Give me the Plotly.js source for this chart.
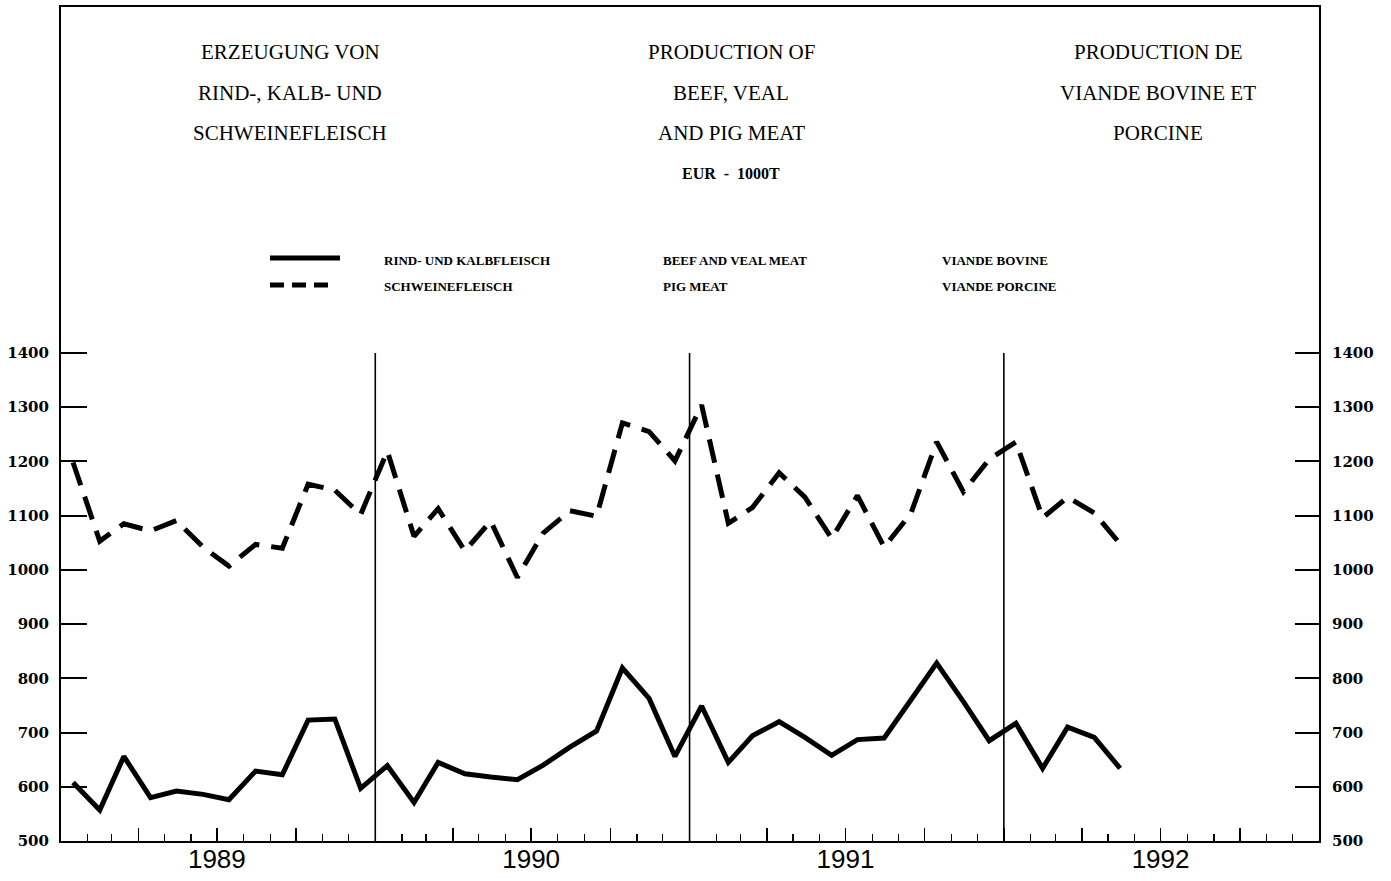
<!DOCTYPE html>
<html><head><meta charset="utf-8">
<script src="https://cdn.plot.ly/plotly-3.0.1.min.js"></script>
<style>html,body{margin:0;padding:0;background:#fff}#chart{width:1391px;height:881px}</style>
</head><body><div id="chart"></div>
<script>
// ---- data (thousand tonnes, EUR) ----
const months = [
 '1989-01','1989-02','1989-03','1989-04','1989-05','1989-06','1989-07','1989-08','1989-09','1989-10','1989-11','1989-12',
 '1990-01','1990-02','1990-03','1990-04','1990-05','1990-06','1990-07','1990-08','1990-09','1990-10','1990-11','1990-12',
 '1991-01','1991-02','1991-03','1991-04','1991-05','1991-06','1991-07','1991-08','1991-09','1991-10','1991-11','1991-12',
 '1992-01','1992-02','1992-03','1992-04','1992-05'];
const beefVeal = [
 608,557,656,580,592,586,576,629,622,723,725,597,
 639,571,645,624,618,613,640,673,703,819,763,656,
 749,645,694,720,691,658,687,690,760,828,757,685,
 717,634,710,691,634];
const pigMeat = [
 1198,1053,1085,1072,1091,1042,1007,1047,1040,1158,1147,1102,
 1219,1062,1113,1035,1090,986,1068,1109,1099,1271,1255,1201,
 1304,1086,1115,1179,1134,1058,1137,1042,1104,1236,1144,1204,
 1236,1096,1134,1105,1048];
const years = ['1989','1990','1991','1992'];
const yTicks = [500,600,700,800,900,1000,1100,1200,1300,1400];
const titleDE = ['ERZEUGUNG VON','RIND-, KALB- UND','SCHWEINEFLEISCH'];
const titleEN = ['PRODUCTION OF','BEEF, VEAL','AND PIG MEAT'];
const titleFR = ['PRODUCTION DE','VIANDE BOVINE ET','PORCINE'];
const unitLabel = 'EUR  -  1000T';
const legendBeef = ['RIND- UND KALBFLEISCH','BEEF AND VEAL MEAT','VIANDE BOVINE'];
const legendPig = ['SCHWEINEFLEISCH','PIG MEAT','VIANDE PORCINE'];

// ---- derived ----
const xDates = months.map(m => m + '-15');
const xStart = years[0] + '-01-01';
const xEnd = (parseInt(years[years.length-1]) + 1) + '-01-01';
const quarterTicks = [];
years.forEach(y => ['01','04','07','10'].forEach(m => quarterTicks.push(y + '-' + m + '-01')));
quarterTicks.push(xEnd);
const midYear = years.map(y => y + '-07-01');
const boundaries = years.slice(1).map(y => y + '-01-01');
const vx = [], vy = [];
boundaries.forEach(b => { vx.push(b, b, null); vy.push(yTicks[yTicks.length-1], yTicks[0], null); });

// layout geometry (pixels)
const L = 61, R = 1319, T = 7, B = 841;
const px = x => (x - L) / (R - L);
const py = y => (B - y) / (B - T);
const yTop = yTicks[0] + (yTicks[yTicks.length-1] - yTicks[0]) * (B - T) / (B - 353);

const annotations = [];
function addText(text, x, y, size, opts) {
  annotations.push(Object.assign({
    text: text, xref: 'paper', yref: 'paper', x: px(x), y: py(y),
    xanchor: 'center', yanchor: 'middle', showarrow: false,
    font: {family: 'Liberation Serif', size: size, color: '#000'}
  }, opts || {}));
}
const titleY = [52, 93, 133];
titleDE.forEach((t,i) => addText(t, 290, titleY[i], 21));
titleEN.forEach((t,i) => addText(t, 731, titleY[i], 21));
titleFR.forEach((t,i) => addText(t, 1158, titleY[i], 21));
addText(unitLabel, 731, 173, 16, {font: {family: 'Liberation Serif', size: 16, color: '#000', weight: 'bold'}});
const legX = [382, 661, 940];
const legFont = {family: 'Liberation Serif', size: 13, color: '#000', weight: 'bold'};
legendBeef.forEach((t,i) => addText(t, legX[i], 260, 13, {xanchor: 'left', font: legFont}));
legendPig.forEach((t,i) => addText(t, legX[i], 286, 13, {xanchor: 'left', font: legFont}));

const shapes = [
  {type: 'line', xref: 'paper', yref: 'paper', x0: px(270), x1: px(340), y0: py(258), y1: py(258), line: {color: '#000', width: 5}},
  {type: 'line', xref: 'paper', yref: 'paper', x0: px(270), x1: px(336), y0: py(285), y1: py(285), line: {color: '#000', width: 5, dash: '14px,8px'}}
];

const traces = [
  {x: xDates, y: beefVeal, name: legendBeef[0], type: 'scatter', mode: 'lines', xaxis: 'x', yaxis: 'y',
   line: {color: '#000', width: 5}},
  {x: xDates, y: pigMeat, name: legendPig[0], type: 'scatter', mode: 'lines', xaxis: 'x', yaxis: 'y',
   line: {color: '#000', width: 5, dash: '24px,12px'}},
  {x: vx, y: vy, type: 'scatter', mode: 'lines', xaxis: 'x2', yaxis: 'y2', showlegend: false,
   line: {color: '#000', width: 1.6}}
];

const tickFontY = {family: 'DejaVu Serif', size: 15, color: '#000', weight: 'bold'};
const layout = {
  width: 1391, height: 881,
  margin: {l: L, r: 1391 - R, t: T, b: 881 - B, pad: 0},
  paper_bgcolor: '#fff', plot_bgcolor: '#fff',
  showlegend: false, hovermode: false,
  xaxis: {type: 'date', range: [xStart, xEnd], tickvals: quarterTicks, ticks: 'inside', ticklen: 13, tickwidth: 1.5,
    tickcolor: '#000', showticklabels: false, showline: true, linewidth: 2, linecolor: '#000', mirror: true,
    showgrid: false, zeroline: false,
    minor: {ticks: 'inside', ticklen: 7, tickwidth: 1.2, tickcolor: '#000', dtick: 'M1', tick0: xStart, showgrid: false}},
  xaxis2: {type: 'date', overlaying: 'x', anchor: 'y', side: 'bottom', range: [xStart, xEnd],
    tickvals: midYear, ticktext: years, ticks: '', showline: false, showgrid: false, zeroline: false,
    tickfont: {family: 'Liberation Sans', size: 26, color: '#000'}},
  yaxis: {range: [yTicks[0], yTop], tickvals: yTicks, ticks: 'inside', ticklen: 26, tickwidth: 2, tickcolor: '#000',
    showline: true, linewidth: 2, linecolor: '#000', mirror: true, showgrid: false, zeroline: false,
    tickfont: tickFontY, ticklabelstandoff: 7},
  yaxis2: {range: [yTicks[0], yTop], overlaying: 'y', side: 'right', anchor: 'x', tickvals: yTicks, ticks: 'inside',
    ticklen: 24, tickwidth: 2, tickcolor: '#000', showline: false, showgrid: false, zeroline: false,
    tickfont: tickFontY, ticklabelstandoff: 12},
  annotations: annotations,
  shapes: shapes
};
Plotly.newPlot('chart', traces, layout, {staticPlot: true, displayModeBar: false});
</script>
</body></html>
